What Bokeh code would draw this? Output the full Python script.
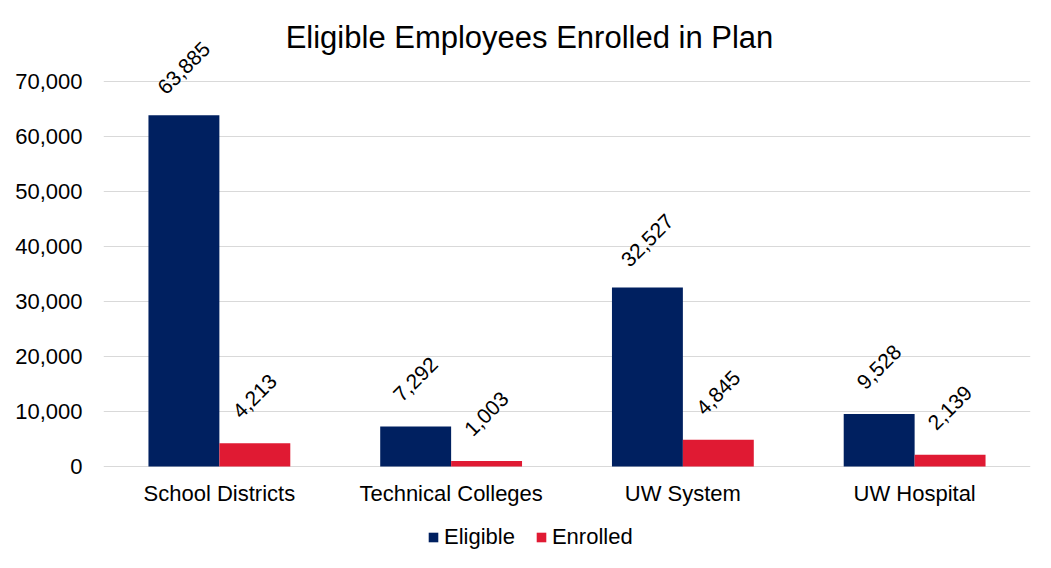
import math
from bokeh.plotting import figure
from bokeh.models import (ColumnDataSource, FactorRange, Range1d, FixedTicker, NumeralTickFormatter,
                          Legend, LegendItem, Label)
from bokeh.transform import dodge
from bokeh.core.properties import value
from bokeh.embed import file_html
from bokeh.resources import INLINE

categories = ["School Districts", "Technical Colleges", "UW System", "UW Hospital"]
eligible = [63885, 7292, 32527, 9528]
enrolled = [4213, 1003, 4845, 2139]
y_ticks = [0, 10000, 20000, 30000, 40000, 50000, 60000, 70000]
title_text = "Eligible Employees Enrolled in Plan"

NAVY = "#002060"
RED = "#E01A33"
FONT = "Liberation Sans"

src = ColumnDataSource(dict(
    cat=categories,
    eligible=eligible,
    enrolled=enrolled,
    elig_lbl=[f"{v:,}" for v in eligible],
    enr_lbl=[f"{v:,}" for v in enrolled],
))

W, H = 1035, 552
ZERO_Y = 466          # px from top where value 0 sits
PX = 55 / 10000.0     # px per unit
y_top = ZERO_Y / PX
y_bot = -(H - ZERO_Y) / PX

p = figure(width=W, height=H, output_backend="svg", toolbar_location=None,
           x_range=FactorRange(*categories, range_padding=0),
           y_range=Range1d(y_bot, y_top),
           min_border_left=103, min_border_right=5, min_border_top=0, min_border_bottom=0)
p.outline_line_color = None
p.background_fill_color = "white"
p.border_fill_color = "white"

bw = 0.306
r1 = p.vbar(x=dodge("cat", -bw / 2, range=p.x_range), top="eligible", width=bw, source=src,
            fill_color=NAVY, line_color=None)
r2 = p.vbar(x=dodge("cat", bw / 2, range=p.x_range), top="enrolled", width=bw, source=src,
            fill_color=RED, line_color=None)

for col, lab, off in (("eligible", "elig_lbl", -bw / 2), ("enrolled", "enr_lbl", bw / 2)):
    p.text(x=dodge("cat", off, range=p.x_range), y=col, text=lab, source=src,
           angle=math.pi / 4, text_align="center", text_baseline="middle",
           y_offset=-47, text_font=value(FONT), text_font_size="21px", text_color="#000000")

# category labels under the zero line
p.text(x="cat", y=0, text="cat", source=src, text_align="center", text_baseline="middle",
       y_offset=27, text_font=value(FONT), text_font_size="22px", text_color="#000000")

p.add_layout(Label(x=(529 - 103) / 231.75, y=(ZERO_Y - 37) / PX, text=title_text,
                   text_align="center", text_baseline="middle", text_font=FONT,
                   text_font_size="31px", text_color="#000000"))

p.yaxis.ticker = FixedTicker(ticks=y_ticks)
p.yaxis.formatter = NumeralTickFormatter(format="0,0")
p.yaxis.axis_line_color = None
p.yaxis.major_tick_line_color = None
p.yaxis.minor_tick_line_color = None
p.yaxis.major_tick_out = 0
p.yaxis.major_label_standoff = 21
p.yaxis.major_label_text_font = FONT
p.yaxis.major_label_text_font_size = "22px"
p.yaxis.major_label_text_color = "#000000"

p.xaxis.visible = False
p.xgrid.grid_line_color = None
p.ygrid.ticker = FixedTicker(ticks=y_ticks)
p.ygrid.grid_line_color = "#d9d9d9"
p.ygrid.grid_line_width = 1

legend = Legend(items=[LegendItem(label="Eligible", renderers=[r1]),
                       LegendItem(label="Enrolled", renderers=[r2])],
                orientation="horizontal", location=(324, 2),
                label_text_font=FONT, label_text_font_size="22px", label_text_color="#000000",
                glyph_width=12, glyph_height=12, spacing=20, label_standoff=5,
                border_line_color=None, background_fill_alpha=0, padding=0, margin=0)
p.add_layout(legend)

open("out.html", "w").write(file_html(p, INLINE))
